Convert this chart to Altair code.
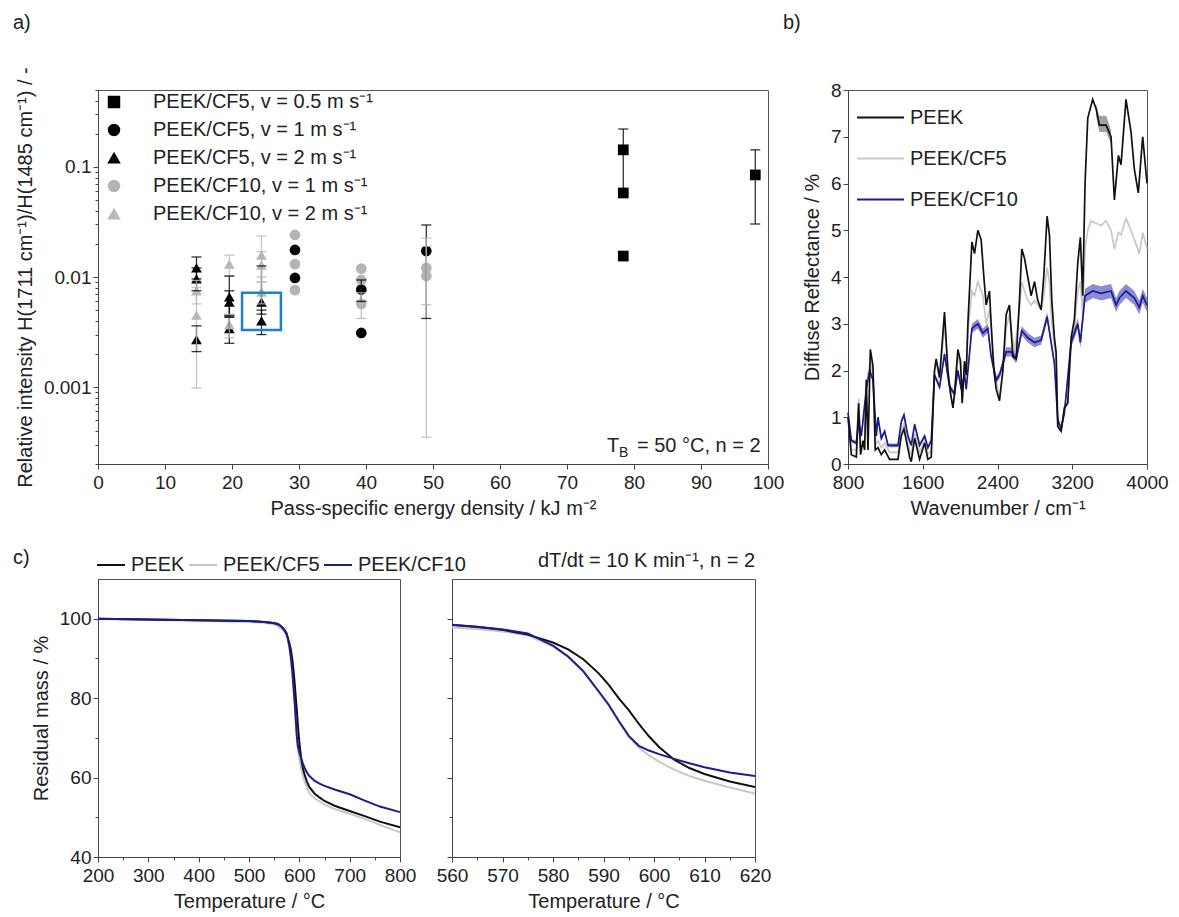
import altair as alt
import pandas as pd

FONT = "Liberation Sans"

# ---------------- panel a data ----------------
a_series = ["PEEK/CF5, v = 0.5 m s⁻¹", "PEEK/CF5, v = 1 m s⁻¹", "PEEK/CF5, v = 2 m s⁻¹",
            "PEEK/CF10, v = 1 m s⁻¹", "PEEK/CF10, v = 2 m s⁻¹"]
a_colors = ["#000000", "#000000", "#000000", "#b4b4b4", "#b8b8b8"]
a_shapes = ["square", "circle", "triangle-up", "circle", "triangle-up"]

a_sid = [0, 0, 0, 0,
         1, 1, 1, 1, 1,
         2, 2, 2, 2, 2, 2, 2, 2,
         3, 3, 3, 3, 3, 3, 3, 3,
         4, 4, 4, 4, 4, 4, 4]
a_x = [78.4, 78.4, 78.4, 98.1,
       29.4, 29.4, 39.3, 39.3, 49.0,
       14.7, 14.7, 14.7, 19.6, 19.6, 19.6, 24.4, 24.4,
       29.4, 29.4, 29.4, 39.3, 39.3, 39.3, 49.0, 49.0,
       14.7, 14.7, 19.6, 19.6, 24.4, 24.4, 24.4]
a_y = [0.143, 0.058, 0.0155, 0.0846,
       0.0176, 0.0098, 0.0077, 0.0031, 0.0172,
       0.0121, 0.0096, 0.0027, 0.0066, 0.0059, 0.0034, 0.0059, 0.0040,
       0.0241, 0.0131, 0.0076, 0.0119, 0.0094, 0.0057, 0.0121, 0.0102,
       0.0075, 0.0045, 0.0131, 0.0037, 0.0158, 0.0128, 0.0073]
a_lo = [0.058, None, None, 0.0303,
        None, None, 0.0060, None, 0.0042,
        0.0096, 0.0075, 0.0021, 0.0045, 0.0044, 0.0025, 0.0046, 0.0030,
        None, None, None, None, None, 0.0042, 0.0056, 0.00035,
        0.0057, 0.00098, 0.0102, 0.0028, 0.0100, 0.0090, 0.0057]
a_hi = [0.221, None, None, 0.143,
        None, None, 0.0094, None, 0.0297,
        0.0152, 0.0121, 0.0036, 0.0102, 0.0075, 0.0043, 0.0126, 0.0050,
        None, None, None, None, None, 0.0072, 0.0190, 0.0226,
        0.0093, 0.0080, 0.0158, 0.0046, 0.0236, 0.0170, 0.0090]

box_x = [21.5]
box_x2 = [27.3]
box_y = [0.0033]
box_y2 = [0.0072]

# ---------------- panel b data ----------------
b_series = ["PEEK", "PEEK/CF5", "PEEK/CF10"]
b_colors = ["#111111", "#c8c8c8", "#1c1c8e"]

pk_wn = [800, 836, 889, 914, 935, 960, 978, 996, 1014, 1039, 1067, 1092, 1121, 1156, 1192, 1245,
         1335, 1370, 1399, 1424, 1459, 1477, 1513, 1566, 1620, 1655, 1691, 1726, 1744, 1780,
         1833, 1869, 1898, 1923, 1940, 1976, 2004, 2022, 2047, 2065, 2083, 2126, 2154, 2190,
         2225, 2254, 2279, 2314, 2332, 2361, 2386, 2421, 2457, 2493, 2528, 2564, 2600, 2635,
         2660, 2689, 2724, 2760, 2796, 2831, 2867, 2895, 2931, 2956, 2981, 3009, 3027, 3045,
         3081, 3116, 3152, 3188, 3223, 3259, 3287, 3312, 3337, 3366, 3419, 3455, 3490, 3562,
         3615, 3651, 3694, 3722, 3775, 3829, 3865, 3907, 3954, 4000]
pk_val = [1.0, 0.2, 0.15, 1.3, 0.2, 0.5, 0.3, 1.8, 0.3, 2.45, 2.1, 0.3, 0.35, 0.2, 0.3, 0.1,
          0.1, 0.6, 0.75, 0.5, 0.15, 0.05, 0.55, 0.1, 0.45, 0.1, 0.15, 2.0, 2.25, 1.85,
          3.25, 2.0, 1.5, 1.2, 1.5, 2.45, 2.2, 1.3, 2.2, 1.9, 3.0, 4.75, 4.5, 5.0,
          4.8, 4.0, 3.4, 3.7, 3.0, 2.0, 1.6, 1.35, 2.0, 3.2, 3.4, 2.3, 2.25, 3.5,
          4.6, 4.4, 4.0, 3.6, 3.9, 3.5, 3.3, 4.0, 5.3, 4.9, 3.5, 2.7, 2.4, 0.8,
          0.7, 1.2, 1.3, 2.7, 3.1, 4.3, 4.85, 3.6, 6.0, 7.4, 7.8, 7.6, 7.25, 7.25,
          7.0, 5.65, 6.6, 6.4, 7.8, 7.1, 6.3, 5.8, 7.0, 6.0]

cf5_wn = [800, 836, 889, 914, 935, 978, 996, 1039, 1067, 1092, 1121, 1156, 1192, 1245, 1335,
          1370, 1399, 1424, 1459, 1477, 1513, 1566, 1620, 1655, 1691, 1726, 1744, 1780, 1833,
          1869, 1898, 1923, 1940, 1976, 2004, 2022, 2047, 2065, 2083, 2126, 2154, 2190, 2243,
          2279, 2314, 2332, 2368, 2421, 2457, 2493, 2528, 2582, 2635, 2660, 2689, 2724, 2760,
          2796, 2831, 2867, 2895, 2931, 2956, 2981, 3009, 3027, 3045, 3081, 3116, 3152, 3188,
          3223, 3259, 3287, 3312, 3337, 3366, 3401, 3455, 3508, 3562, 3615, 3651, 3694, 3722,
          3775, 3829, 3865, 3918, 3954, 4000]
cf5_val = [1.0, 0.3, 0.3, 1.4, 0.3, 0.5, 1.7, 2.2, 1.9, 0.4, 0.5, 0.35, 0.45, 0.25, 0.25,
           0.7, 0.85, 0.6, 0.3, 0.2, 0.65, 0.25, 0.5, 0.2, 0.3, 2.0, 2.2, 1.8, 3.0,
           2.0, 1.5, 1.25, 1.5, 2.3, 2.1, 1.35, 2.1, 1.9, 2.8, 3.7, 3.6, 3.9, 3.6,
           3.0, 3.3, 2.9, 2.0, 1.4, 1.9, 2.9, 3.2, 2.4, 3.3, 3.9, 3.7, 3.5, 3.4,
           3.5, 3.4, 3.3, 3.6, 4.2, 3.9, 3.0, 2.5, 2.3, 0.8, 0.75, 1.2, 1.35, 2.6,
           2.9, 3.7, 3.9, 3.2, 4.6, 5.0, 5.2, 5.15, 5.1, 5.2, 5.0, 4.6, 4.95, 4.9,
           5.25, 5.0, 4.8, 4.5, 4.95, 4.6]

cf10_wn = [800, 836, 889, 914, 943, 996, 1032, 1067, 1103, 1121, 1156, 1192, 1228, 1335, 1370,
           1399, 1441, 1477, 1513, 1566, 1620, 1655, 1691, 1726, 1780, 1833, 1887, 1940, 1976,
           2012, 2047, 2065, 2126, 2190, 2243, 2297, 2332, 2386, 2421, 2493, 2546, 2600, 2660,
           2724, 2796, 2867, 2931, 3009, 3045, 3081, 3116, 3188, 3259, 3287, 3337, 3419, 3508,
           3615, 3669, 3704, 3775, 3865, 3918, 3954, 4000]
cf10_val = [1.1, 0.5, 0.45, 0.9, 0.6, 1.6, 2.0, 1.8, 0.6, 1.0, 0.55, 0.7, 0.4, 0.4, 0.9,
            1.05, 0.6, 0.4, 0.85, 0.4, 0.6, 0.35, 0.5, 1.9, 1.65, 2.35, 1.65, 1.5, 2.0,
            1.6, 1.9, 1.6, 2.9, 3.0, 2.8, 2.9, 2.3, 1.8, 1.9, 2.4, 2.4, 2.25, 2.85,
            2.7, 2.6, 2.65, 3.15, 2.15, 0.95, 0.75, 1.1, 2.6, 3.0, 2.6, 3.6, 3.7, 3.65,
            3.7, 3.4, 3.55, 3.7, 3.55, 3.35, 3.6, 3.4]
cf10_sd = [0.04, 0.04, 0.04, 0.04, 0.04, 0.04, 0.04, 0.04, 0.04, 0.04, 0.04, 0.04, 0.04, 0.04, 0.04,
           0.04, 0.04, 0.04, 0.04, 0.04, 0.04, 0.04, 0.04, 0.05, 0.05, 0.06, 0.06, 0.06, 0.06,
           0.06, 0.06, 0.06, 0.1, 0.1, 0.1, 0.1, 0.08, 0.08, 0.08, 0.1, 0.1, 0.1, 0.1,
           0.1, 0.1, 0.1, 0.1, 0.08, 0.06, 0.06, 0.06, 0.1, 0.12, 0.12, 0.15, 0.15, 0.15,
           0.15, 0.15, 0.15, 0.15, 0.15, 0.15, 0.15, 0.15]

pk_band_wn = [3455, 3490, 3562, 3615]
pk_band_lo = [7.45, 7.1, 7.1, 6.85]
pk_band_hi = [7.7, 7.45, 7.45, 7.15]

# ---------------- panel c data ----------------
c_series = ["PEEK", "PEEK/CF5", "PEEK/CF10"]
c_colors = ["#111111", "#c8c8c8", "#1c1c8e"]
c_temp = [200, 300, 400, 500, 530, 545, 555, 560, 565, 570, 575, 580, 583, 586, 589, 591, 593,
          595, 597, 599, 601, 604, 607, 610, 615, 620, 630, 640, 650, 670, 700, 730, 760, 800]
c_peek = [100.0, 99.8, 99.6, 99.4, 99.2, 99.0, 98.7, 98.4, 97.9, 97.2, 96.0, 94.0, 92.3, 89.8,
          86.3, 83.4, 80.0, 77.0, 73.5, 70.4, 67.7, 64.5, 62.4, 60.9, 59.0, 57.6, 56.0, 55.0,
          54.1, 52.9, 51.6, 50.3, 48.9, 47.5]
c_cf5 = [99.9, 99.7, 99.5, 99.2, 99.0, 98.7, 98.3, 97.8, 97.4, 96.8, 95.8, 93.0, 90.3, 86.6,
         81.6, 78.2, 74.2, 70.3, 67.5, 65.6, 64.0, 62.0, 60.4, 59.2, 57.5, 56.0, 54.8, 54.0,
         53.2, 52.1, 50.9, 49.6, 48.1, 46.2]
c_cf10 = [100.0, 99.8, 99.6, 99.4, 99.2, 99.0, 98.8, 98.5, 98.0, 97.3, 96.3, 93.2, 90.5, 86.8,
          81.8, 78.4, 74.3, 70.5, 68.0, 66.8, 65.9, 64.7, 63.6, 62.6, 61.3, 60.4, 59.2, 58.5,
          57.9, 57.0, 55.8, 54.2, 52.7, 51.3]

# ---------------- frames ----------------
df_a = pd.DataFrame({"series": [a_series[i] for i in a_sid], "x": a_x, "y": a_y,
                     "lo": a_lo, "hi": a_hi})
df_a_err = df_a.dropna(subset=["lo", "hi"])
df_box = pd.DataFrame({"x": box_x, "x2": box_x2, "y": box_y, "y2": box_y2})

df_b = pd.concat([
    pd.DataFrame({"series": "PEEK", "wn": pk_wn, "v": pk_val}),
    pd.DataFrame({"series": "PEEK/CF5", "wn": cf5_wn, "v": cf5_val}),
    pd.DataFrame({"series": "PEEK/CF10", "wn": cf10_wn, "v": cf10_val}),
])
df_b10band = pd.DataFrame({"wn": cf10_wn,
                           "lo": [v - s for v, s in zip(cf10_val, cf10_sd)],
                           "hi": [v + s for v, s in zip(cf10_val, cf10_sd)]})
df_bpkband = pd.DataFrame({"wn": pk_band_wn, "lo": pk_band_lo, "hi": pk_band_hi})

df_c = pd.concat([
    pd.DataFrame({"series": "PEEK", "T": c_temp, "m": c_peek}),
    pd.DataFrame({"series": "PEEK/CF5", "T": c_temp, "m": c_cf5}),
    pd.DataFrame({"series": "PEEK/CF10", "T": c_temp, "m": c_cf10}),
])


def txt(s, x, y, size=20, align="left", baseline="middle"):
    return alt.Chart(pd.DataFrame({"t": [s]})).mark_text(
        align=align, baseline=baseline, fontSize=size, font=FONT, color="#222"
    ).encode(text="t:N", x=alt.value(x), y=alt.value(y))


def minor_axis(values, major_test, title, labels=True, label_expr=None, fmt="d"):
    kw = dict(values=values, grid=False, format=fmt, labelOverlap=False, labelFlush=False,
              tickSize={"condition": {"test": major_test, "value": 5}, "value": 3},
              labelExpr=label_expr if label_expr else f"({major_test}) ? datum.label : ''")
    kw["title"] = title if title is not None else ""
    if not labels:
        kw["labelExpr"] = "''"
    return alt.Axis(**kw)


# ---------------- panel a ----------------
a_leg = alt.Legend(title=None, orient="none", legendX=6, legendY=2, labelFontSize=20,
                   labelFont=FONT, rowPadding=8, labelOffset=29, symbolSize=120,
                   padding=0, labelLimit=400, labelColor="#222")
col_a = alt.Color("series:N", scale=alt.Scale(domain=a_series, range=a_colors), legend=a_leg)
shp_a = alt.Shape("series:N", scale=alt.Scale(domain=a_series, range=a_shapes), legend=a_leg)

log_vals = [round(k * 10 ** e, 6) for e in (-4, -3, -2, -1) for k in range(1, 10)
            if 0.0002 <= k * 10 ** e <= 0.5]
major_log = "(datum.value == 0.001 || datum.value == 0.01 || datum.value == 0.1)"
ax_a_x = minor_axis(list(range(0, 101, 5)), "datum.value % 10 === 0",
                    "Pass-specific energy density / kJ m⁻²")
ax_a_y = minor_axis(log_vals, major_log,
                    "Relative intensity H(1711 cm⁻¹)/H(1485 cm⁻¹) / -",
                    label_expr=major_log + " ? format(datum.value, '~g') : ''", fmt="~g")
xa = alt.X("x:Q", scale=alt.Scale(domain=[0, 100], nice=False, zero=False), axis=ax_a_x)
ya = alt.Y("y:Q", scale=alt.Scale(type="log", domain=[0.0002, 0.5], nice=False), axis=ax_a_y)

pts_a = alt.Chart(df_a).mark_point(filled=True, opacity=1, size=115, strokeWidth=0).encode(
    x=xa, y=ya, color=col_a, shape=shp_a)
base_err = alt.Chart(df_a_err)
rule_a = base_err.mark_rule(strokeWidth=1.3, opacity=0.8).encode(
    x=alt.X("x:Q"), y=alt.Y("lo:Q"), y2="hi:Q", color=col_a)
cap_lo = base_err.mark_tick(orient="horizontal", size=10, thickness=1.3, opacity=0.8).encode(
    x="x:Q", y="lo:Q", color=col_a)
cap_hi = base_err.mark_tick(orient="horizontal", size=10, thickness=1.3, opacity=0.8).encode(
    x="x:Q", y="hi:Q", color=col_a)
box_a = alt.Chart(df_box).mark_rect(fill=None, stroke="#1f7fcf", strokeWidth=2.5).encode(
    x="x:Q", x2="x2:Q", y="y:Q", y2="y2:Q")

panel_a = alt.layer(
    pts_a, rule_a, cap_lo, cap_hi, box_a,
    txt("a)", -85, -67),
    txt("T", 509, 356),
    txt("B", 521, 363, size=14),
    txt("= 50 °C, n = 2", 539, 356),
).properties(width=670, height=374)

# ---------------- panel b ----------------
b_leg = alt.Legend(title=None, orient="none", legendX=8, legendY=3, symbolType="stroke",
                   symbolSize=2209, symbolStrokeWidth=2, labelFontSize=20, labelFont=FONT,
                   labelOffset=5, rowPadding=6, padding=0, labelColor="#222")
col_b = alt.Color("series:N", scale=alt.Scale(domain=b_series, range=b_colors), legend=b_leg)
ax_b_x = minor_axis(list(range(800, 4001, 400)), "datum.value % 800 === 0", "Wavenumber / cm⁻¹")
ax_b_y = minor_axis([i * 0.5 for i in range(0, 17)], "datum.value % 1 === 0",
                    "Diffuse Reflectance / %")
xb = alt.X("wn:Q", scale=alt.Scale(domain=[800, 4000], nice=False, zero=False), axis=ax_b_x)
yb = alt.Y("v:Q", scale=alt.Scale(domain=[0, 8], nice=False), axis=ax_b_y)

band10 = alt.Chart(df_b10band).mark_area(color="#5b5bc0", opacity=0.7).encode(
    x=alt.X("wn:Q"), y=alt.Y("lo:Q"), y2="hi:Q")
bandpk = alt.Chart(df_bpkband).mark_area(color="#8a8a8a", opacity=0.8).encode(
    x=alt.X("wn:Q"), y=alt.Y("lo:Q"), y2="hi:Q")
lines_b = [
    alt.Chart(df_b).transform_filter(alt.datum.series == s).mark_line(strokeWidth=1.7).encode(
        x=xb, y=yb, color=col_b)
    for s in ["PEEK/CF5", "PEEK/CF10", "PEEK"]
]
panel_b = alt.layer(
    lines_b[0], band10, lines_b[1], bandpk, lines_b[2],
    txt("b)", -65, -67),
).properties(width=299, height=374)

# ---------------- panel c ----------------
c_leg = alt.Legend(title=None, orient="none", legendX=-2, legendY=-29, direction="horizontal",
                   symbolType="stroke", symbolSize=784, symbolStrokeWidth=2, labelFontSize=20,
                   labelFont=FONT, labelOffset=5, columnPadding=0, padding=0, labelColor="#222")
col_c = alt.Color("series:N", scale=alt.Scale(domain=c_series, range=c_colors), legend=c_leg)
col_c2 = alt.Color("series:N", scale=alt.Scale(domain=c_series, range=c_colors), legend=None)

y_vals_c = list(range(40, 101, 10))
ax_cl_x = minor_axis(list(range(200, 801, 50)), "datum.value % 100 === 0", "Temperature / °C")
ax_cl_y = minor_axis(y_vals_c, "datum.value % 20 === 0", "Residual mass / %")
ax_cr_x = minor_axis(list(range(560, 621, 5)), "datum.value % 10 === 0", "Temperature / °C")
ax_cr_y = minor_axis(y_vals_c, "datum.value % 20 === 0", None, labels=False)
yc_scale = alt.Scale(domain=[40, 110], nice=False, zero=False)


def c_lines(xdom, axx, axy, col, clip):
    out = []
    for s in ["PEEK/CF5", "PEEK", "PEEK/CF10"]:
        out.append(alt.Chart(df_c).transform_filter(alt.datum.series == s)
                   .mark_line(strokeWidth=2, clip=clip).encode(
                       x=alt.X("T:Q", scale=alt.Scale(domain=xdom, nice=False, zero=False), axis=axx),
                       y=alt.Y("m:Q", scale=yc_scale, axis=axy),
                       color=col))
    return out


panel_cl = alt.layer(
    *c_lines([200, 800], ax_cl_x, ax_cl_y, col_c, False),
    txt("c)", -85, -21),
).properties(width=302, height=278)
panel_cr = alt.layer(
    *c_lines([560, 620], ax_cr_x, ax_cr_y, col_c2, True),
    txt("dT/dt = 10 K min⁻¹, n = 2", 303, -18, align="right"),
).properties(width=303, height=278)

top = alt.hconcat(panel_a, panel_b, spacing=80, bounds="flush").resolve_scale(
    color="independent", shape="independent")
bottom = alt.hconcat(panel_cl, panel_cr, spacing=52, bounds="flush").resolve_scale(
    color="independent")

chart = alt.vconcat(top, bottom, spacing=28).resolve_scale(
    color="independent", shape="independent"
).properties(
    padding={"left": 12, "top": 12, "right": 5, "bottom": 5}
).configure(font=FONT).configure_view(
    stroke="#555", strokeWidth=1
).configure_axis(
    labelFontSize=19, titleFontSize=20, titleFontWeight="normal", labelColor="#222",
    titleColor="#222", domainColor="#444", tickColor="#444", labelFont=FONT, titleFont=FONT,
    titlePadding=8
).configure_axisX(
    labelPadding=4, titlePadding=6
)

chart.save("out.html", embed_options={"renderer": "svg", "actions": False})
